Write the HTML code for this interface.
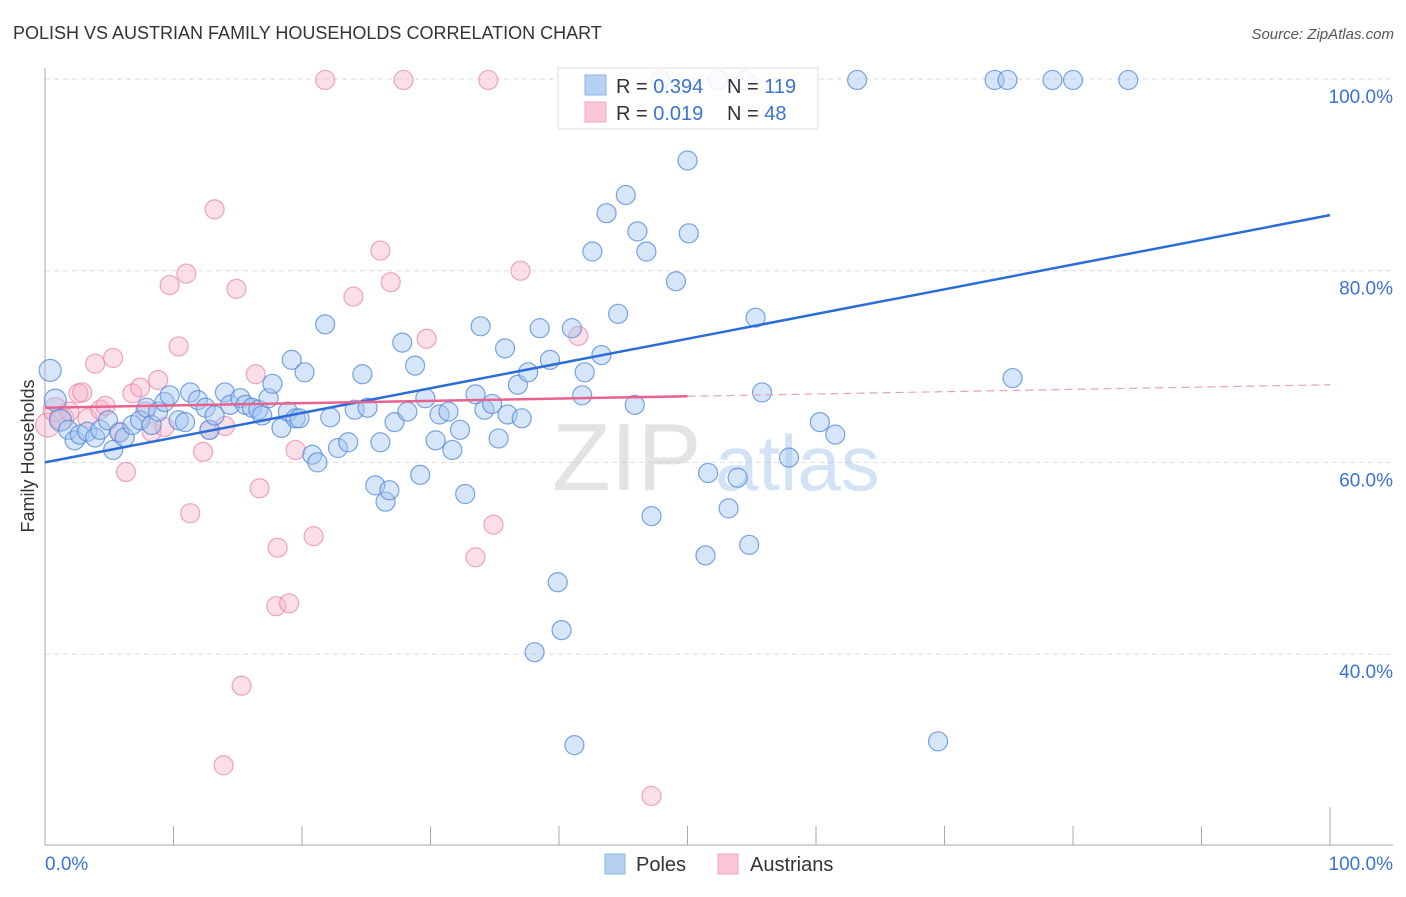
<!DOCTYPE html>
<html><head><meta charset="utf-8"><style>
body{margin:0;background:#fff;font-family:"Liberation Sans",sans-serif;}
svg text{font-family:"Liberation Sans",sans-serif;}
</style></head><body>
<svg id="chart" width="1406" height="892" viewBox="0 0 1406 892" xmlns="http://www.w3.org/2000/svg">
<text x="13" y="39" font-size="18" fill="#333">POLISH VS AUSTRIAN FAMILY HOUSEHOLDS CORRELATION CHART</text>
<text x="1394" y="39" font-size="15" fill="#555" text-anchor="end" font-style="italic">Source: ZipAtlas.com</text>
<g id="grid"></g>
<g opacity="0.5">
<text x="552" y="490" font-size="96" font-family="Liberation Serif" fill="#c8c8c8">ZIP</text>
<text x="715" y="490" font-size="78" fill="#a9c6ec">atlas</text>
</g>
<g id="axes"></g>
<g id="pink-points"></g>
<g id="blue-points"></g>
<g id="trends"></g>
<text transform="translate(34,456) rotate(-90)" font-size="18" fill="#333" text-anchor="middle">Family Households</text>
<g>
<rect x="558" y="68" width="260" height="61" fill="#fff" fill-opacity="0.85" stroke="#ddd"/>
<rect x="585" y="75" width="21" height="20" fill="#b7d1f3" stroke="#8db3e8"/>
<rect x="585" y="102" width="21" height="20" fill="#fac7d6" stroke="#f0a5bd"/>
<text x="616" y="93" font-size="20" fill="#333">R = <tspan fill="#3a73d1">0.394</tspan></text>
<text x="727" y="93" font-size="20" fill="#333">N = <tspan fill="#3a73d1">119</tspan></text>
<text x="616" y="120" font-size="20" fill="#333">R = <tspan fill="#3a73d1"> 0.019</tspan></text>
<text x="727" y="120" font-size="20" fill="#333">N = <tspan fill="#3a73d1"> 48</tspan></text>
</g>
<g>
<rect x="605" y="854" width="20" height="20" fill="#b7d1f3" stroke="#8db3e8"/>
<text x="636" y="871" font-size="20" fill="#333">Poles</text>
<rect x="718" y="854" width="20" height="20" fill="#fac7d6" stroke="#f0a5bd"/>
<text x="750" y="871" font-size="20" fill="#333">Austrians</text>
</g>
</svg>
<script>
const yTicks=[40,60,80,100];
const yTickLabels=["40.0%","60.0%","80.0%","100.0%"];
const xTicks=[0,10,20,30,40,50,60,70,80,90,100];
const polesX=[0.4,0.8,1.2,1.8,2.3,2.7,3.3,3.9,4.3,4.9,5.3,5.8,6.2,6.8,7.4,7.9,8.3,8.8,9.3,9.7,10.4,10.9,11.3,11.9,12.5,12.8,13.2,14.0,14.4,15.2,15.6,16.1,16.6,16.9,17.4,17.7,18.4,18.9,19.5,19.8,19.2,20.2,20.8,21.2,21.8,22.2,22.8,23.6,24.1,24.7,25.1,25.7,26.1,26.5,26.8,27.2,27.8,28.2,28.8,29.2,29.6,30.4,30.7,31.4,31.7,32.3,32.7,33.5,33.9,34.2,34.8,35.3,35.8,36.0,36.8,37.1,37.6,38.5,39.3,39.9,40.2,38.1,41.0,41.2,41.8,42.0,42.6,43.3,43.7,44.6,45.2,46.1,46.8,45.9,47.2,49.1,50.0,50.1,51.4,51.6,53.9,53.2,54.8,55.3,55.8,57.9,60.3,61.5,69.5,75.3,47.9,52.4,54.5,63.2,73.9,74.9,78.4,80.0,84.3];
const polesY=[69.6,66.5,64.4,63.4,62.3,62.9,63.2,62.6,63.4,64.4,61.3,63.1,62.6,63.9,64.4,65.7,63.9,65.3,66.3,67.0,64.4,64.2,67.3,66.5,65.7,63.4,64.9,67.3,66.0,66.7,66.0,65.7,65.5,64.9,66.7,68.2,63.6,65.3,64.6,64.6,70.7,69.4,60.8,60.0,74.4,64.7,61.5,62.1,65.5,69.2,65.7,57.6,62.1,55.9,57.1,64.2,72.5,65.3,70.1,58.7,66.7,62.3,65.0,65.3,61.3,63.4,56.7,67.1,74.2,65.5,66.1,62.5,71.9,65.0,68.1,64.6,69.4,74.0,70.7,47.5,42.5,40.2,74.0,30.5,67.0,69.4,82.0,71.2,86.0,75.5,87.9,84.1,82.0,66.0,54.4,78.9,91.5,83.9,50.3,58.9,58.4,55.2,51.4,75.1,67.3,60.5,64.2,62.9,30.9,68.8,99.9,99.9,99.9,99.9,99.9,99.9,99.9,99.9,99.9];
const austX=[0.2,0.8,1.3,1.9,2.6,2.9,3.3,3.9,4.3,4.7,5.3,5.8,6.3,6.8,7.4,7.8,8.3,8.8,9.3,9.7,10.4,11.0,11.3,12.3,12.8,13.2,14.0,14.9,15.3,13.9,16.4,16.7,18.1,18.0,19.0,19.5,20.9,21.8,24.0,26.1,26.9,27.9,29.7,33.5,34.5,34.9,37.0,41.5,47.2];
const austY=[63.9,65.5,64.6,65.3,67.2,67.3,64.6,70.3,65.5,65.9,70.9,63.2,59.0,67.2,67.8,65.3,63.2,68.6,63.7,78.5,72.1,79.7,54.7,61.1,63.4,86.4,63.8,78.1,36.7,28.4,69.2,57.3,51.1,45.0,45.3,61.3,52.3,99.9,77.3,82.1,78.8,99.9,72.9,50.1,99.9,53.5,80.0,73.2,25.2];
const polesTrend=[60.0,85.8];
const austTrend=[65.7,68.1];
const austSolidEnd=50;

const NS="http://www.w3.org/2000/svg";
const X=v=>45+v*12.85;
const Y=v=>79+(100-v)*9.585;
function mk(tag,attrs,parent){const e=document.createElementNS(NS,tag);for(const k in attrs)e.setAttribute(k,attrs[k]);parent.appendChild(e);return e;}
const grid=document.getElementById('grid'),axes=document.getElementById('axes');
yTicks.forEach((t,i)=>{
  const l=mk('line',{x1:45,x2:1393,y1:Y(t),y2:Y(t),stroke:'#ddd','stroke-dasharray':'5,4'},grid);
  
  
  const tx=mk('text',{x:1393,y:Y(t)+24,'font-size':19,fill:'#3a73d1','text-anchor':'end'},axes);
  tx.textContent=yTickLabels[i];
  
  
});
mk('line',{x1:45,x2:45,y1:68,y2:845,stroke:'#aaa'},axes);
mk('line',{x1:45,x2:1393,y1:845,y2:845,stroke:'#aaa'},axes);
xTicks.forEach(t=>{
  const tk=mk('line',{x1:X(t),x2:X(t),y1:(t===0||t===100)?807:826,y2:845,stroke:'#aaa'},axes);
  
  
});
const xl0=mk('text',{x:45,y:870,'font-size':19,fill:'#3a73d1'},axes);xl0.textContent='0.0%';


const xl1=mk('text',{x:1393,y:870,'font-size':19,fill:'#3a73d1','text-anchor':'end'},axes);xl1.textContent='100.0%';


const pp=document.getElementById('pink-points'),bp=document.getElementById('blue-points');
austX.forEach((x,i)=>{
  const c=mk('circle',{cx:X(x),cy:Y(austY[i]),r:x<1.5?12:9.5,fill:'rgba(246,175,198,0.4)',stroke:'rgba(232,130,165,0.7)','stroke-width':1.2},pp);
  
  
});
polesX.forEach((x,i)=>{
  const c=mk('circle',{cx:X(x),cy:Y(polesY[i]),r:x<1.5?11:9.5,fill:'rgba(165,198,240,0.45)',stroke:'rgba(80,135,215,0.75)','stroke-width':1.2},bp);
  
  
});
const tr=document.getElementById('trends');
const b=mk('line',{x1:X(0),y1:Y(polesTrend[0]),x2:X(100),y2:Y(polesTrend[1]),stroke:'#2a6dd6','stroke-width':2.5},tr);


const am=austTrend[0]+(austTrend[1]-austTrend[0])*austSolidEnd/100;
const a1=mk('line',{x1:X(0),y1:Y(austTrend[0]),x2:X(austSolidEnd),y2:Y(am),stroke:'#e8628f','stroke-width':2.5},tr);


const a2=mk('line',{x1:X(austSolidEnd),y1:Y(am),x2:X(100),y2:Y(austTrend[1]),stroke:'#e8a0b8','stroke-width':1.2,'stroke-dasharray':'8,5'},tr);


</script>
</body></html>
